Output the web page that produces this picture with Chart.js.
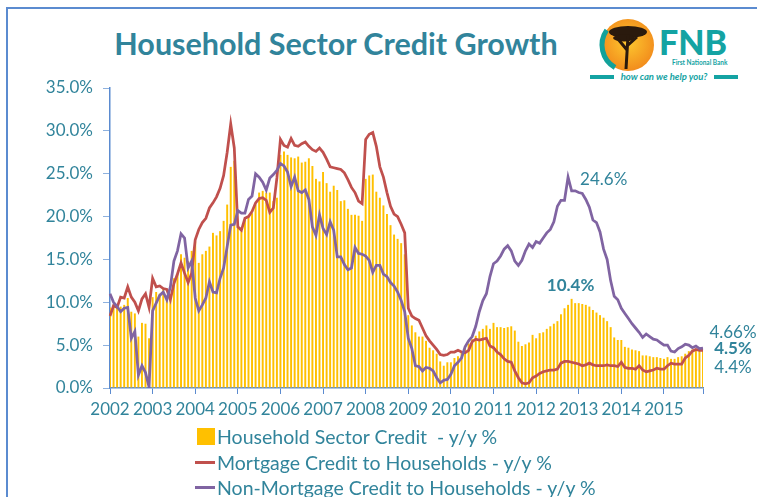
<!DOCTYPE html>
<html>
<head>
<meta charset="utf-8">
<script src="https://cdn.jsdelivr.net/npm/chart.js@4.4.0/dist/chart.umd.min.js"></script>
<style>
  body { margin: 0; background: #fff; font-family: Lato, sans-serif; }
  #wrap { position: relative; width: 757px; height: 497px; overflow: hidden; background: #fff; }
  #frame { position: absolute; left: 6px; top: 7px; width: 800px; height: 600px;
           border-left: 2px solid #5B8BD0; border-top: 2px solid #5B8BD0; }
  #title { position: absolute; left: 0; top: 25px; width: 672px; text-align: center;
           font: bold 30.5px Lato, sans-serif; color: #31849B; }
  #chart { position: absolute; left: 0; top: 0; }
  #logo { position: absolute; left: 588px; top: 10px; }
  #legend { position: absolute; left: 195px; top: 424px; color: #31849B;
            font: 19.5px Lato, sans-serif; }
  .item { display: flex; align-items: center; height: 25.5px; white-space: pre; }
  .swatch { width: 20px; margin-right: 2px; display: inline-block; }
</style>
</head>
<body>
<div id="wrap">
  <div id="frame"></div>
  <div id="title">Household Sector Credit Growth</div>
  <svg id="logo" width="160" height="75">
    <defs>
      <radialGradient id="sun" cx="50%" cy="45%" r="55%">
        <stop offset="0%" stop-color="#FDC82F"/>
        <stop offset="100%" stop-color="#F28C1C"/>
      </radialGradient>
    </defs>
    <circle cx="40" cy="35" r="26" fill="url(#sun)"/>
    <path d="M 27 57.5 A 26 26 0 0 1 18.7 20.1" stroke="#12A19A" stroke-width="5" fill="none"/>
    <ellipse cx="40" cy="22" rx="19" ry="6" fill="#2A1A0D"/>
    <ellipse cx="36" cy="28" rx="11" ry="3.5" fill="#2A1A0D"/>
    <path d="M 40 26 L 38 59 M 39 40 L 30 29 M 39 36 L 49 27" stroke="#2A1A0D" stroke-width="3" fill="none"/>
    <text x="71" y="45" font-family="Lato" font-weight="900" font-size="34" fill="#14A3A3">FNB</text>
    <text x="84" y="55" font-family="Lato" font-weight="bold" font-size="6.5" fill="#14A3A3">First National Bank</text>
    <rect x="2" y="65" width="24" height="4" fill="#14A3A3"/>
    <rect x="126" y="65" width="24" height="4" fill="#14A3A3"/>
    <text x="76" y="70" text-anchor="middle" font-family="Lato" font-style="italic" font-weight="bold" font-size="9.5" fill="#14A3A3">how can we help you?</text>
  </svg>
  <canvas id="chart" width="757" height="497"></canvas>
  <div id="legend"></div>
</div>
<script>
// years on the axis, one category per month
const years = ['2002', '2003', '2004', '2005', '2006', '2007', '2008',
               '2009', '2010', '2011', '2012', '2013', '2014', '2015'];
const monthLabels = [];
years.forEach(y => { for (let m = 1; m <= 12; m++) monthLabels.push(y + '-' + m); });

// Household Sector Credit - y/y % (bars), one row per year
const householdCredit = [
  9.4, 9.7, 9.6, 9.5, 9.7, 10.5, 8.9, 8.7, 6.0, 7.6, 7.5, 5.8,
  10.6, 11.2, 11.0, 11.6, 10.5, 10.5, 12.8, 13.4, 15.6, 15.2, 14.8, 16.0,
  17.1, 14.6, 15.6, 16.0, 16.5, 18.1, 17.8, 18.3, 19.5, 21.4, 25.8, 26.5,
  18.8, 18.3, 19.8, 20.0, 20.4, 21.4, 22.8, 23.0, 22.8, 22.8, 21.8, 22.2,
  27.2, 27.6, 27.2, 26.9, 26.8, 27.0, 26.3, 26.4, 26.8, 25.9, 24.4, 24.1,
  25.2, 23.9, 22.9, 23.6, 23.1, 21.8, 21.9, 20.9, 20.2, 20.2, 20.1, 19.5,
  24.4, 24.8, 24.9, 22.9, 22.2, 21.3, 20.3, 19.0, 17.9, 17.4, 16.9, 15.6,
  8.5, 7.3, 6.5, 6.0, 6.0, 5.5, 4.7, 4.4, 4.0, 3.1, 2.6, 3.0,
  3.0, 3.5, 3.7, 4.1, 4.6, 5.2, 5.7, 6.1, 6.6, 6.9, 7.3, 6.9,
  7.6, 7.1, 7.1, 7.0, 7.1, 7.2, 6.7, 5.4, 4.9, 5.1, 5.3, 6.2,
  5.8, 6.4, 6.5, 6.9, 7.2, 7.5, 7.8, 8.6, 9.3, 9.7, 10.4, 9.9,
  9.9, 9.8, 9.7, 9.5, 9.1, 8.8, 8.5, 8.2, 7.8, 7.1, 5.9, 5.6,
  5.6, 4.8, 4.7, 4.5, 4.4, 4.3, 3.8, 3.8, 3.7, 3.6, 3.6, 3.5,
  3.4, 3.6, 3.4, 3.4, 3.6, 3.7, 4.0, 4.3, 4.5, 4.5, 4.6, 4.5
];

// Mortgage Credit to Households - y/y %
const mortgageCredit = [
  8.4, 9.6, 9.4, 10.6, 10.5, 11.8, 10.6, 10.0, 9.0, 10.4, 11.0, 9.4,
  12.8, 11.8, 11.9, 11.6, 11.5, 10.3, 12.2, 13.3, 14.6, 13.4, 12.3, 13.4,
  17.3, 18.5, 19.3, 19.8, 21.0, 21.6, 22.3, 23.3, 24.8, 27.5, 30.8, 28.0,
  18.8, 18.4, 19.8, 20.0, 20.6, 21.6, 22.1, 22.2, 21.9, 20.5, 21.0, 24.5,
  29.0, 28.3, 28.1, 29.1, 28.3, 28.2, 28.5, 28.7, 28.2, 27.8, 27.6, 28.0,
  27.5, 26.7, 25.8, 25.7, 25.6, 25.5, 25.1, 24.3, 23.4, 22.8, 21.8, 21.5,
  29.0, 29.6, 29.8, 28.2, 25.8, 24.6, 22.8, 21.2, 20.3, 20.0, 19.1, 18.1,
  9.3, 8.4, 8.1, 7.9, 7.0, 6.1, 5.5, 5.0, 4.5, 3.9, 3.8, 3.9,
  4.2, 4.2, 4.4, 4.2, 4.1, 4.4, 5.4, 5.7, 5.6, 5.7, 5.8, 4.9,
  4.7, 4.2, 3.9, 3.4, 3.1, 3.0, 2.0, 1.2, 0.6, 0.5, 0.6, 1.2,
  1.4, 1.7, 1.9, 2.0, 2.1, 2.1, 2.2, 2.9, 3.1, 3.1, 3.0, 2.9,
  2.8, 2.6, 2.7, 2.9, 2.7, 2.6, 2.6, 2.6, 2.7, 2.6, 2.6, 2.5,
  3.0, 2.4, 2.3, 2.3, 2.2, 2.6, 2.1, 1.9, 2.0, 2.1, 2.3, 2.2,
  2.2, 2.6, 2.9, 2.8, 2.8, 2.8, 3.5, 3.8, 4.3, 4.5, 4.4, 4.4
];

// Non-Mortgage Credit to Households - y/y %
const nonMortgageCredit = [
  11.0, 10.0, 9.5, 8.9, 9.3, 9.4, 5.8, 6.6, 1.5, 2.6, 1.8, 0.1,
  9.0, 9.9, 10.8, 11.2, 10.3, 11.8, 14.8, 16.0, 18.0, 17.5, 14.0, 14.8,
  10.5, 9.0, 9.7, 10.5, 12.4, 11.2, 11.1, 12.8, 14.0, 16.5, 19.0, 19.1,
  20.7, 20.4, 20.4, 22.0, 22.4, 25.0, 24.6, 24.0, 23.1, 24.5, 24.9, 25.4,
  26.2, 25.9, 25.2, 23.5, 24.6, 23.0, 22.8, 23.1, 22.0, 18.8, 17.8, 20.2,
  18.6, 17.9, 19.4, 18.4, 15.3, 15.3, 14.4, 13.8, 14.0, 16.4, 15.7, 15.6,
  15.4, 14.9, 13.5, 14.3, 14.3, 13.3, 13.0, 12.3, 11.9, 11.2, 10.2, 8.9,
  5.8, 4.6, 2.6, 2.5, 2.0, 2.4, 2.3, 2.0, 1.2, 0.6, 0.9, 1.0,
  1.6, 2.6, 3.0, 3.5, 4.8, 5.5, 6.0, 7.2, 8.9, 10.2, 11.0, 13.0,
  14.5, 14.8, 15.4, 16.2, 16.6, 16.0, 14.8, 14.3, 14.9, 16.0, 16.8, 16.4,
  17.1, 16.9, 17.5, 18.1, 18.5, 19.4, 21.2, 21.9, 21.9, 24.6, 23.0, 23.0,
  22.8, 22.7, 22.0, 21.1, 19.6, 19.3, 18.2, 16.2, 15.0, 12.5, 10.7, 10.3,
  9.3, 8.7, 8.1, 7.5, 7.0, 6.5, 5.9, 6.3, 6.0, 5.7, 5.6, 5.3,
  5.0, 5.0, 4.3, 4.2, 4.6, 4.8, 5.1, 5.0, 4.7, 4.9, 4.6, 4.66
];

const teal = '#31849B';
const axisBlue = '#5B8BD0';

// value call-outs next to the lines/bars
const callouts = {
  id: 'callouts',
  afterDatasetsDraw(chart) {
    const { ctx } = chart;
    const x = chart.scales.x, y = chart.scales.y;
    const last = householdCredit.length - 1;
    ctx.save();
    ctx.fillStyle = teal;
    ctx.textBaseline = 'middle';
    // non-mortgage peak
    ctx.font = '17px Lato';
    ctx.textAlign = 'left';
    ctx.fillText('24.6%', x.getPixelForValue(129) + 12, y.getPixelForValue(24.6) + 2);
    // household peak
    ctx.font = 'bold 17px Lato';
    ctx.textAlign = 'center';
    ctx.fillText('10.4%', x.getPixelForValue(130) - 1, y.getPixelForValue(10.4) - 13);
    // latest values
    const lx = x.getPixelForValue(last);
    ctx.font = '17px Lato';
    ctx.fillText('4.66%', lx + 30, y.getPixelForValue(4.66) - 16);
    ctx.font = 'bold 17px Lato';
    ctx.fillText('4.5%', lx + 30, y.getPixelForValue(4.5) - 1);
    ctx.font = '17px Lato';
    ctx.fillText('4.4%', lx + 30, y.getPixelForValue(4.4) + 17);
    ctx.restore();
  }
};

const chart = new Chart(document.getElementById('chart'), {
  type: 'bar',
  data: {
    labels: monthLabels,
    datasets: [
      {
        type: 'bar',
        label: 'Household Sector Credit  - y/y %',
        data: householdCredit,
        backgroundColor: '#FFC000',
        barPercentage: 0.55,
        categoryPercentage: 1,
        order: 3
      },
      {
        type: 'line',
        label: 'Mortgage Credit to Households - y/y %',
        data: mortgageCredit,
        borderColor: '#C0504D',
        backgroundColor: '#C0504D',
        borderWidth: 2.75,
        pointRadius: 0,
        tension: 0,
        order: 2
      },
      {
        type: 'line',
        label: 'Non-Mortgage Credit to Households - y/y %',
        data: nonMortgageCredit,
        borderColor: '#8064A2',
        backgroundColor: '#8064A2',
        borderWidth: 2.75,
        pointRadius: 0,
        tension: 0,
        order: 1
      }
    ]
  },
  options: {
    responsive: false,
    animation: false,
    devicePixelRatio: 1,
    layout: { padding: { left: 0, right: 54, top: 88, bottom: 79 } },
    plugins: { legend: { display: false }, tooltip: { enabled: false } },
    scales: {
      x: {
        offset: false,
        grid: {
          offset: false,
          drawOnChartArea: false,
          tickLength: 6,
          color: ctx => (ctx.index % 12 === 0 || ctx.index === householdCredit.length - 1) ? axisBlue : 'rgba(0,0,0,0)'
        },
        border: { color: axisBlue, width: 1.5 },
        ticks: {
          autoSkip: false, maxRotation: 0, minRotation: 0, padding: 5,
          color: teal, font: { family: 'Lato', size: 17 },
          callback: (v, i) => i % 12 === 0 ? monthLabels[i].slice(0, 4) : ''
        },
        afterFit: s => { s.height = 30; }
      },
      y: {
        min: 0, max: 35,
        grid: { drawOnChartArea: false, tickLength: 7, color: '#8EB1DE' },
        border: { color: axisBlue, width: 1.5 },
        ticks: {
          stepSize: 5, padding: 10, color: teal, font: { family: 'Lato', size: 17 },
          callback: v => v.toFixed(1) + '%'
        },
        afterFit: s => { s.width = 110; }
      }
    }
  },
  plugins: [callouts]
});

// legend as a vertical list, built from the chart's own datasets
const legendBox = document.getElementById('legend');
chart.data.datasets.forEach(ds => {
  const row = document.createElement('div');
  row.className = 'item';
  const sw = document.createElement('span');
  sw.className = 'swatch';
  if (ds.type === 'bar') {
    sw.style.height = '17px';
    sw.style.width = '18px';
    sw.style.marginLeft = '2px';
    sw.style.background = ds.backgroundColor;
  } else {
    sw.style.height = '3px';
    sw.style.background = ds.borderColor;
  }
  row.appendChild(sw);
  row.appendChild(document.createTextNode(ds.label));
  legendBox.appendChild(row);
});
</script>
</body>
</html>
